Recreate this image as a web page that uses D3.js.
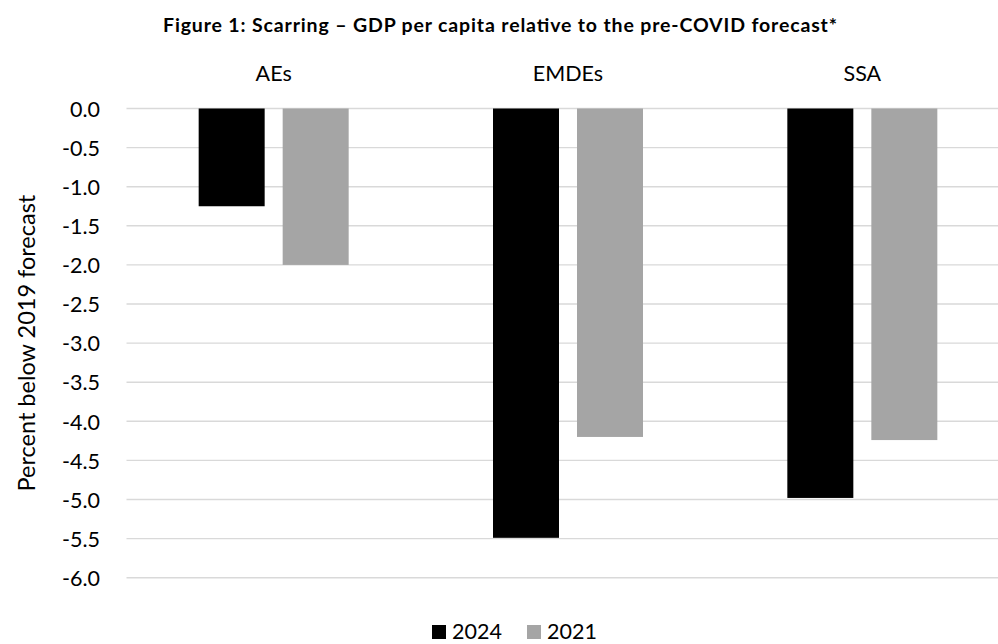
<!DOCTYPE html>
<html>
<head>
<meta charset="utf-8">
<script src="https://cdn.jsdelivr.net/npm/d3@7"></script>
<style>
  html, body { margin: 0; padding: 0; background: #fff; }
  svg { display: block; }
  text { font-family: Lato, "Open Sans", sans-serif; fill: #000; }
</style>
</head>
<body>
<svg id="chart" width="998" height="644"></svg>
<script>
// Regions and series
const categories = ["AEs", "EMDEs", "SSA"];
const seriesNames = ["2024", "2021"];
const values2024 = [-1.25, -5.49, -4.98];
const values2021 = [-2.0, -4.2, -4.24];
const yTicks = [0, -0.5, -1, -1.5, -2, -2.5, -3, -3.5, -4, -4.5, -5, -5.5, -6];
const colors = ["#000000", "#a5a5a5"];

const titleText = "Figure 1: Scarring \u2013 GDP per capita relative to the pre-COVID forecast*";
const yTitle = "Percent below 2019 forecast";

const svg = d3.select("#chart");

const plot = { left: 126.5, right: 1009.5, top: 108.5, bottom: 577.7 };

const x = d3.scaleBand().domain(categories).range([plot.left, plot.right]).padding(0);
const xInner = d3.scaleBand().domain(seriesNames).range([-75, 75]).paddingInner(0.2143).paddingOuter(0);
const y = d3.scaleLinear().domain([0, -6]).range([plot.top, plot.bottom]);

// Plain hyphen for negatives, one decimal
const fmt = d => d3.format(".1f")(d).replace("\u2212", "-");

// Title
svg.append("text")
  .attr("x", 500).attr("y", 32)
  .attr("text-anchor", "middle")
  .attr("textLength", 674)
  .attr("lengthAdjust", "spacing")
  .style("font-weight", "bold")
  .style("font-size", "19.5px")
  .text(titleText);

// Gridlines
svg.append("g").selectAll("line").data(yTicks).join("line")
  .attr("x1", plot.left).attr("x2", 998)
  .attr("y1", d => y(d)).attr("y2", d => y(d))
  .attr("stroke", "#d9d9d9").attr("stroke-width", 1.4);

// Y axis tick labels
const yAxis = d3.axisLeft(y).tickValues(yTicks).tickFormat(fmt).tickSize(0).tickPadding(0);
const gy = svg.append("g").attr("transform", "translate(100,0)").call(yAxis);
gy.select(".domain").remove();
gy.selectAll("text").style("font-size", "21.5px").style("font-family", "Lato, 'Open Sans', sans-serif").attr("fill", "#000").attr("dy", "0.36em");

// Category labels along the top
svg.append("g").selectAll("text").data(categories).join("text")
  .attr("x", d => x(d) + x.bandwidth() / 2)
  .attr("y", 81)
  .attr("text-anchor", "middle")
  .style("font-size", "21.5px")
  .text(d => d);

// Bars
const rows = categories.map((c, i) => ({ cat: c, vals: [values2024[i], values2021[i]] }));
const groups = svg.append("g").selectAll("g").data(rows).join("g")
  .attr("transform", d => `translate(${x(d.cat) + x.bandwidth() / 2},0)`);
groups.selectAll("rect")
  .data(d => d.vals.map((v, j) => ({ s: seriesNames[j], v, j })))
  .join("rect")
  .attr("x", d => xInner(d.s))
  .attr("width", xInner.bandwidth())
  .attr("y", d => y(Math.max(0, d.v)))
  .attr("height", d => Math.abs(y(d.v) - y(0)))
  .attr("fill", d => colors[d.j]);

// Y axis title
svg.append("text")
  .attr("transform", `translate(35,${(plot.top + plot.bottom) / 2}) rotate(-90)`)
  .attr("text-anchor", "middle")
  .style("font-size", "23.5px")
  .text(yTitle);

// Legend
const legend = svg.append("g");
const legendItems = [{ name: seriesNames[0], x: 432 }, { name: seriesNames[1], x: 527 }];
legendItems.forEach((it, j) => {
  legend.append("rect").attr("x", it.x).attr("y", 625).attr("width", 14).attr("height", 14).attr("fill", colors[j]);
  legend.append("text").attr("x", it.x + 20).attr("y", 639).style("font-size", "21.5px").text(it.name);
});
</script>
</body>
</html>
